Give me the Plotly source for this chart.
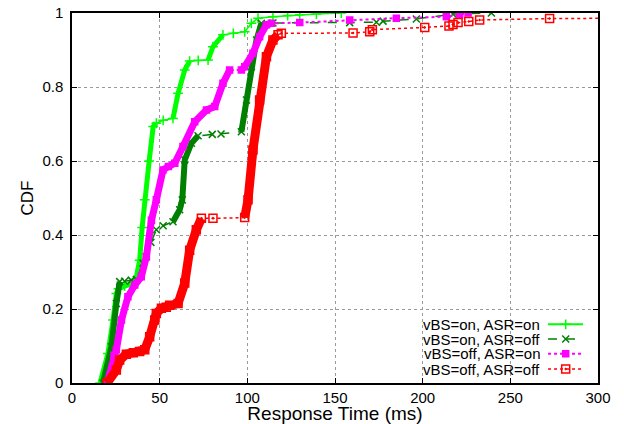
import plotly.graph_objects as go

# ---- data ----
on_on_x = [16, 20.5, 23.4, 25.3, 26.5, 30, 36, 38.6, 40, 41.5, 44, 46.3, 48.1, 52, 57.6, 60.5,
           64.3, 67.1, 72, 77.6, 80.4, 86.1, 92, 98.5, 102.3, 106.1, 114.6, 123, 129.9, 139.4, 153.6]
on_on_y = [0, 0.08, 0.17, 0.242, 0.255, 0.262, 0.27, 0.332, 0.42, 0.495, 0.6, 0.693, 0.702, 0.71,
           0.715, 0.783, 0.846, 0.870, 0.872, 0.873, 0.909, 0.941, 0.945, 0.949, 0.972, 0.986, 0.990,
           0.993, 0.995, 0.997, 1.0]

on_off_x = [17.7, 22.5, 25.3, 27.2, 30, 33.8, 36.7, 40.5, 42.4, 45, 48.1, 52, 57.6, 61.4, 62.9, 64.3,
            68.1, 71.9, 80, 85, 96.6, 99.5, 102.3, 105.2, 108, 114.6, 158.4, 173.6, 177.4, 196.4,
            217.3, 239.2]
on_off_y = [0, 0.098, 0.215, 0.274, 0.275, 0.278, 0.28, 0.324, 0.341, 0.38, 0.414, 0.425, 0.436,
            0.468, 0.495, 0.603, 0.648, 0.668, 0.672, 0.673, 0.679, 0.765, 0.855, 0.927, 0.972,
            0.973, 0.974, 0.975, 0.978, 0.984, 0.997, 1.0]

off_on_x = [20, 24, 25.3, 28.2, 31.9, 35.8, 39.5, 42.4, 45.3, 48.1, 51.9, 55, 58.6, 63.3, 70, 76.7,
            81.4, 86.1, 89.9, 96.6, 98.5, 103.2, 107, 110.9, 113.7, 129.9, 158.4, 185, 213.5, 221.1,
            225.9]
off_on_y = [0, 0.075, 0.09, 0.17, 0.233, 0.265, 0.287, 0.341, 0.44, 0.495, 0.576, 0.585, 0.594,
            0.639, 0.706, 0.738, 0.747, 0.81, 0.846, 0.846, 0.855, 0.891, 0.936, 0.968, 0.972, 0.974,
            0.981, 0.986, 0.99, 0.995, 1.0]

off_off_x = [20, 25.3, 27.2, 31, 35, 38.6, 41.5, 44.3, 47.2, 48.1, 51, 53.8, 55.7, 60.5, 64.3, 67.1,
             70.9, 73.8, 80.4, 98.5, 100.4, 103.2, 107, 110.9, 114.6, 117.5, 119.4, 160.3, 169.8,
             171.3, 201.2, 215, 217.3, 220.2, 226.3, 232.5, 272.4, 320]
off_off_y = [0, 0.035, 0.062, 0.078, 0.082, 0.085, 0.09, 0.125, 0.17, 0.188, 0.202, 0.205, 0.21,
             0.215, 0.27, 0.359, 0.414, 0.445, 0.445, 0.447, 0.495, 0.63, 0.765, 0.882, 0.927, 0.941,
             0.945, 0.946, 0.949, 0.955, 0.961, 0.965, 0.969, 0.974, 0.977, 0.981, 0.985, 0.986]

series_names = ["vBS=on, ASR=on", "vBS=on, ASR=off", "vBS=off, ASR=on", "vBS=off, ASR=off"]
x_ticks = [0, 50, 100, 150, 200, 250, 300]
y_ticks = [0, 0.2, 0.4, 0.6, 0.8, 1]

# ---- styles ----
styles = [
    dict(color="#00ff00", dash="solid", thin=1.5, thick=5, symbol="cross-thin-open", msize=7,
         dense=[(0, 48.2), (57, 67.2), (77, 86.2)]),
    dict(color="#008000", dash="dash", thin=1.5, thick=6, symbol="x-thin-open", msize=7,
         dense=[(0, 27.3), (57, 72), (96, 108.1)]),
    dict(color="#ff00ff", dash="dot", thin=2, thick=7, symbol="square", msize=6,
         dense=[(0, 90), (96, 114)]),
    dict(color="#ff0000", dash="dot", thin=1.5, thick=9, symbol="square-open-dot", msize=8,
         dense=[(0, 74), (98, 118)]),
]
data = [(on_on_x, on_on_y), (on_off_x, on_off_y), (off_on_x, off_on_y), (off_off_x, off_off_y)]

FONT = "Liberation Sans, Arial, Helvetica, sans-serif"
fig = go.Figure()

for (xs, ys), st, name in zip(data, styles, series_names):
    fig.add_trace(go.Scatter(
        x=xs, y=ys, mode="lines+markers", name=name, showlegend=False,
        line=dict(color=st["color"], width=st["thin"], dash=st["dash"]),
        marker=dict(symbol=st["symbol"], size=st["msize"], color=st["color"],
                    line=dict(color=st["color"], width=1.5)),
    ))
    # dense parts (many overlapping points in the original) drawn as thick lines
    dx, dy = [], []
    for lo, hi in st["dense"]:
        seg = [(a, b) for a, b in zip(xs, ys) if lo <= a <= hi]
        for a, b in seg:
            dx.append(a)
            dy.append(b)
        dx.append(None)
        dy.append(None)
    fig.add_trace(go.Scatter(
        x=dx, y=dy, mode="lines", showlegend=False, hoverinfo="skip",
        line=dict(color=st["color"], width=st["thick"]),
    ))

# ---- custom legend (text right, sample on the right, gnuplot style) ----
leg_rows = [0.1586, 0.1189, 0.0789, 0.0378]
for st, name, ry in zip(styles, series_names, leg_rows):
    fig.add_trace(go.Scatter(
        x=[0.905, 0.9715], y=[ry, ry], xaxis="x2", yaxis="y2", mode="lines",
        showlegend=False, hoverinfo="skip",
        line=dict(color=st["color"], width=st["thin"] if st["dash"] != "solid" else 2, dash=st["dash"]),
    ))
    fig.add_trace(go.Scatter(
        x=[0.9386], y=[ry], xaxis="x2", yaxis="y2", mode="markers",
        showlegend=False, hoverinfo="skip",
        marker=dict(symbol=st["symbol"], size=st["msize"], color=st["color"],
                    line=dict(color=st["color"], width=1.5)),
    ))
    fig.add_annotation(x=0.8935, y=ry, xref="paper", yref="paper", text=name,
                       showarrow=False, xanchor="right", yanchor="middle",
                       font=dict(family=FONT, size=15, color="black"))

axis_common = dict(
    showline=True, linecolor="black", linewidth=1.5, mirror="allticks",
    ticks="inside", ticklen=5, tickcolor="black", tickwidth=1,
    showgrid=True, gridcolor="#9a9a9a", griddash="dot", gridwidth=1,
    zeroline=False, tickfont=dict(family=FONT, size=15, color="black"),
    automargin=False,
)

fig.update_layout(
    width=624, height=424,
    margin=dict(l=72, r=26, t=13, b=41),
    paper_bgcolor="white", plot_bgcolor="white",
    showlegend=False,
    xaxis=dict(range=[0, 300], tickvals=x_ticks, ticktext=[str(v) for v in x_ticks],
               title=dict(text="Response Time (ms)", font=dict(family=FONT, size=19, color="black"),
                          standoff=2),
               **axis_common),
    yaxis=dict(range=[0, 1], tickvals=y_ticks, ticktext=[f"{v:g}" for v in y_ticks],
               title=dict(text="CDF", font=dict(family=FONT, size=17, color="black"), standoff=4),
               ticklabelstandoff=4,
               **axis_common),
    xaxis2=dict(overlaying="x", range=[0, 1], visible=False),
    yaxis2=dict(overlaying="y", range=[0, 1], visible=False),
)

fig.write_html("out.html", post_script="document.body.style.margin='0';",
               config={"displayModeBar": False})
